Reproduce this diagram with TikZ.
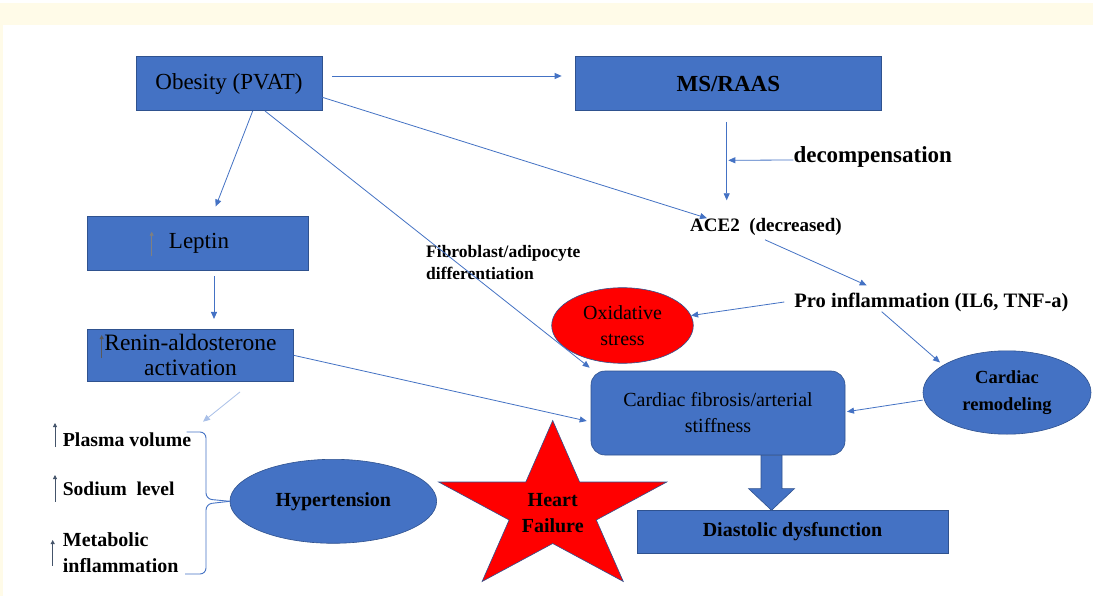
\documentclass[tikz,border=0pt]{standalone}
\usepackage{fontspec}
\setmainfont{Liberation Serif}
\newfontfamily\tnr{Liberation Serif}
\usetikzlibrary{arrows.meta,calc,shapes.geometric}
\definecolor{boxblue}{HTML}{4472C4}
\definecolor{edgeblue}{HTML}{2F528F}
\definecolor{cream}{HTML}{FFFBE8}
\definecolor{slate}{HTML}{44546A}
\definecolor{lightline}{HTML}{A9C0E8}
\definecolor{hfred}{HTML}{FF0000}
\begin{document}
\begin{tikzpicture}[x=1pt,y=-1pt,
  box/.style={draw=edgeblue, fill=boxblue, line width=0.6pt, inner sep=0pt, align=center},
  oval/.style={ellipse, draw=edgeblue, line width=0.6pt, inner sep=0pt, align=center},
  conn/.style={draw=boxblue, line width=0.8pt, -{Triangle[length=7pt,width=6pt]}},
  upmark/.style={draw=slate, line width=0.8pt, -{Triangle[length=4pt,width=4pt]}},
  reg/.style={font=\tnr\fontsize{20}{26}\selectfont},
  regbig/.style={font=\tnr\fontsize{23}{25}\selectfont},
  bld/.style={font=\tnr\bfseries\fontsize{20}{26}\selectfont},
  bldbig/.style={font=\tnr\bfseries\fontsize{23}{26}\selectfont},
  bldsmall/.style={font=\tnr\bfseries\fontsize{17.5}{21.6}\selectfont},
  lbl/.style={inner sep=0pt, align=left}
]
\useasboundingbox (0,0) rectangle (1093,596);
\fill[white] (0,0) rectangle (1093,596);
\fill[cream] (0,3) rectangle (1093,25);
\fill[cream] (0,25) rectangle (3,596);

% boxes
\node[box, regbig, minimum width=186, minimum height=54] (obesity) at (229,83.7) {Obesity (PVAT)};
\node[box, bldbig, minimum width=306.7, minimum height=54] (msraas) at (728.3,83.7) {MS/RAAS};
\node[box, regbig, minimum width=220.6, minimum height=54.3] (leptin) at (198,243) {\hspace*{2pt}Leptin};
\node[box, font=\tnr\fontsize{23.5}{25}\selectfont, minimum width=205.6, minimum height=52.7] (renin) at (190.5,355.3) {Renin-aldosterone\\activation};
\node[box, reg, rounded corners=14pt, minimum width=254, minimum height=84] (fibrosis) at (718,413) {Cardiac fibrosis/arterial\\stiffness};
\node[box, bld, minimum width=311, minimum height=43] (diastolic) at (792.5,531.5) {Diastolic dysfunction};

% ellipses
\node[oval, fill=hfred, reg, minimum width=141.6, minimum height=75.6] (oxid) at (622.5,325.5) {Oxidative\\stress};
\node[oval, fill=boxblue, font=\tnr\bfseries\fontsize{18.5}{26.5}\selectfont, minimum width=168, minimum height=83.4] (remod) at (1007,392.5) {Cardiac\\remodeling};
\node[oval, fill=boxblue, bld, minimum width=206.7, minimum height=84] (hyper) at (333.3,501.3) {Hypertension};

% text labels
\node[lbl, font=\tnr\bfseries\fontsize{19}{24}\selectfont] (ace2) at (766,227) {ACE2\ \ (decreased)};
\node[lbl, bldbig, anchor=west] (decomp) at (793.3,157) {decompensation};
\node[lbl, font=\tnr\bfseries\fontsize{20.5}{24}\selectfont] (pro) at (931.5,302) {Pro inflammation (IL6,\ TNF-a)};
\node[lbl, bldsmall, anchor=west] (fibro) at (426,262.5) {Fibroblast/adipocyte\\differentiation};
\node[lbl, font=\tnr\bfseries\fontsize{19.8}{26}\selectfont, anchor=west] (plasma) at (62.7,440) {Plasma\ volume};
\node[lbl, font=\tnr\bfseries\fontsize{19.5}{26}\selectfont, anchor=west] (sodium) at (62.7,489.3) {Sodium\ \ level};
\node[lbl, font=\tnr\bfseries\fontsize{20}{25.7}\selectfont, anchor=west] (metab) at (62.7,553) {Metabolic\\inflammation};

% star
\coordinate (hf) at (552.7,509.5);
\filldraw[fill=hfred, draw=edgeblue, line width=0.6pt]
  ($(hf)+(0,-89)$) -- ($(hf)+(-26.9,-27.5)$) -- ($(hf)+(-114.1,-27.5)$) --
  ($(hf)+(-43.6,10.5)$) -- ($(hf)+(-70.6,72)$) -- ($(hf)+(0,34)$) --
  ($(hf)+(70.6,72)$) -- ($(hf)+(43.6,10.5)$) -- ($(hf)+(114.1,-27.5)$) --
  ($(hf)+(26.9,-27.5)$) -- cycle;
\node[bld, align=center, inner sep=0pt] (heart) at (552.7,513) {Heart\\Failure};

% connectors
\draw[conn] ($(obesity.east)+(10,-7.7)$) -- ($(msraas.west)+(-13,-7.7)$);
\draw[conn] ($(obesity.south)+(23.7,0)$) -- ($(leptin.north)+(17.7,-9)$);
\draw[conn] ($(leptin.south)+(16,6)$) -- ($(renin.north)+(23.5,-9.7)$);
\draw[conn] (renin.east) -- ($(fibrosis.west)+(-4,8)$);
\coordinate (bracein) at (203,421.7);
\draw[draw=lightline, line width=0.8pt, -{Triangle[length=7pt,width=6pt]}] ($(renin.south)+(49.5,10)$) -- (bracein);
\draw[conn] ($(obesity.south)+(36,0)$) -- ($(fibrosis.north west)+(-1,-3)$);
\draw[conn] ($(obesity.east)+(0,13.6)$) -- ($(ace2.north west)+(17,0)$);
\draw[conn] ($(msraas.south)+(-1.6,11)$) -- ($(msraas.south)+(-1.6,89.3)$);
\draw[conn] ($(decomp.west)+(0,3)$) -- ($(msraas.south)+(0,49.3)$);
\draw[conn] ($(ace2.south)+(-1,4)$) -- ($(pro.north)+(-64.8,-7)$);
\draw[conn] ($(pro.west)+(-10,0)$) -- (oxid);
\draw[conn] ($(pro.center)+(-49.8,9.7)$) -- ($(remod.center)+(-67,-30)$);
\draw[conn] ($(remod.west)+(0,7.6)$) -- ($(fibrosis.east)+(1.7,-1.3)$);

% block arrow
\coordinate (ba) at ($(fibrosis.south)+(53.5,0)$);
\filldraw[fill=boxblue, draw=edgeblue, line width=0.6pt]
  ($(ba)+(-10.5,0)$) -- ($(ba)+(-10.5,33.3)$) -- ($(ba)+(-23,33.3)$) --
  ($(ba)+(0,55)$) -- ($(ba)+(23,33.3)$) -- ($(ba)+(10.5,33.3)$) --
  ($(ba)+(10.5,0)$) -- cycle;

% brace
\draw[draw=boxblue, line width=0.9pt, rounded corners=6pt]
  (186.7,432) -- (206,432) -- (206,499) -- (hyper.west);
\draw[draw=boxblue, line width=0.9pt, rounded corners=6pt]
  (hyper.west) -- (206,504) -- (206,574) -- (185,574);

% up marks
\draw[upmark] (55,447) -- (55,423);
\draw[upmark] (55,501.7) -- (55,475);
\draw[upmark] (52.7,565.7) -- (52.7,540);
\draw[upmark, draw=gray] (151.7,256) -- (151.7,231.7);
\draw[upmark, draw=gray!70!black] (101.7,358) -- (101.7,335);
\end{tikzpicture}
\end{document}
